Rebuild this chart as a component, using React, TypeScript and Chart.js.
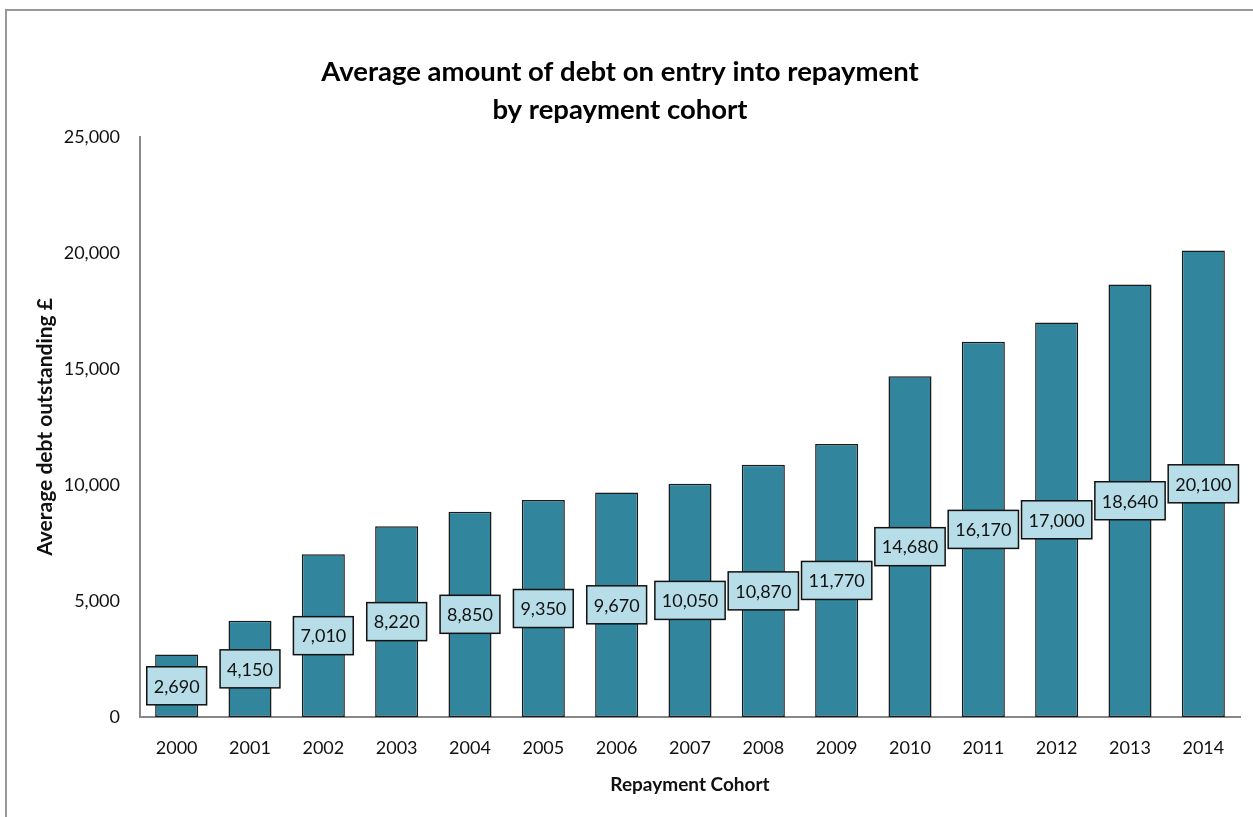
import React, { useEffect, useRef } from "react";
import { Chart, registerables } from "chart.js";

Chart.register(...registerables);

const categories = ["2000", "2001", "2002", "2003", "2004", "2005", "2006", "2007", "2008", "2009", "2010", "2011", "2012", "2013", "2014"];
const debtValues = [2690, 4150, 7010, 8220, 8850, 9350, 9670, 10050, 10870, 11770, 14680, 16170, 17000, 18640, 20100];
const titleLines = ["Average amount of debt on entry into repayment", "by repayment cohort"];
const yAxisTitle = "Average debt outstanding £";
const xAxisTitle = "Repayment Cohort";

const FONT = "Lato, 'Open Sans', sans-serif";

const fmt = (v: number) => v.toLocaleString("en-US");

const labelBoxPlugin = {
  id: "labelBoxes",
  afterDatasetsDraw(chart: any) {
    const ctx = chart.ctx;
    const meta = chart.getDatasetMeta(0);
    const data = chart.data.datasets[0].data as number[];
    ctx.save();
    ctx.font = `18px ${FONT}`;
    ctx.textAlign = "center";
    ctx.textBaseline = "middle";
    meta.data.forEach((bar: any, i: number) => {
      const text = fmt(data[i]);
      const cx = bar.x;
      const cy = (bar.y + bar.base) / 2;
      const w = ctx.measureText(text).width + 14;
      const h = 38;
      ctx.fillStyle = "#B7DEE8";
      ctx.fillRect(cx - w / 2, cy - h / 2, w, h);
      ctx.lineWidth = 1.5;
      ctx.strokeStyle = "#111";
      ctx.strokeRect(cx - w / 2, cy - h / 2, w, h);
      ctx.fillStyle = "#111";
      ctx.fillText(text, cx, cy + 1);
    });
    ctx.restore();
  },
};

export default function App() {
  const ref = useRef<HTMLCanvasElement>(null);
  useEffect(() => {
    if (!ref.current) return;
    const chart = new Chart(ref.current, {
      type: "bar",
      data: {
        labels: categories,
        datasets: [
          {
            data: debtValues,
            backgroundColor: "#31859C",
            borderColor: "#1a1a1a",
            borderWidth: 1.5,
            borderSkipped: false,
            barPercentage: 0.587,
            categoryPercentage: 1,
          },
        ],
      },
      options: {
        animation: false,
        responsive: false,
        devicePixelRatio: 1,
        layout: { padding: { left: 0, right: 13, top: 0, bottom: 0 } },
        plugins: {
          legend: { display: false },
          tooltip: { enabled: false },
          title: {
            display: true,
            text: titleLines,
            color: "#000",
            font: { family: FONT, size: 27.5, weight: "bold", lineHeight: 1.38 },
            padding: { top: 53, bottom: 8 },
          },
        },
        scales: {
          x: {
            grid: { display: false, drawTicks: false },
            border: { display: true, color: "#888", width: 2 },
            ticks: { color: "#111", font: { family: FONT, size: 18 }, padding: 20 },
            title: {
              display: true,
              text: xAxisTitle,
              color: "#111",
              font: { family: FONT, size: 19, weight: "bold" },
              padding: { top: 0, bottom: 21 },
            },
            afterFit(scale: any) {
              scale.height = 100;
            },
          },
          y: {
            min: 0,
            max: 25000,
            grid: { display: false, drawTicks: false },
            border: { display: true, color: "#888", width: 2 },
            ticks: {
              stepSize: 5000,
              color: "#111",
              font: { family: FONT, size: 18 },
              padding: 20,
              callback: (v: any) => fmt(Number(v)),
            },
            title: {
              display: true,
              text: yAxisTitle,
              color: "#111",
              font: { family: FONT, size: 21, weight: "bold" },
              padding: { top: 33, bottom: 0 },
            },
            afterFit(scale: any) {
              scale.width = 140;
            },
          },
        },
      },
      plugins: [labelBoxPlugin],
    });
    return () => chart.destroy();
  }, []);

  return (
    <div style={{ position: "absolute", left: 0, top: 0, width: 1253, height: 817, background: "#fff", overflow: "hidden" }}>
      <canvas ref={ref} width={1253} height={817} style={{ display: "block" }} />
      <div style={{ position: "absolute", left: 5, top: 9, width: 1248, height: 2, background: "#999" }} />
      <div style={{ position: "absolute", left: 5, top: 9, width: 2, height: 808, background: "#999" }} />
    </div>
  );
}
